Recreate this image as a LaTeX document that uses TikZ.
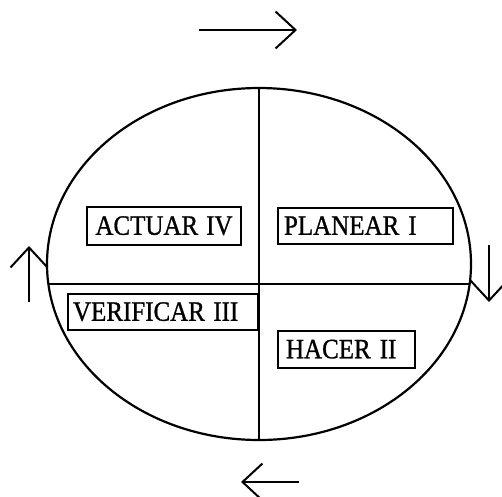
\documentclass[tikz,border=0pt]{standalone}
\usepackage{fontspec}
\setmainfont{Liberation Serif}
\newfontfamily\lblfont[FakeBold=1]{Liberation Serif}
\usetikzlibrary{arrows.meta,shapes.geometric}
\begin{document}
\begin{tikzpicture}[x=1pt,y=-1pt,
  ln/.style={line width=2.2pt},
  lbl/.style={draw, line width=2pt, anchor=north west, inner xsep=6pt, inner ysep=0pt,
    font=\lblfont\fontsize{25}{28}\selectfont, align=left, text height=17.5pt, text depth=0pt},
  arr/.style={line width=2pt, -{Straight Barb[length=20pt,width=37pt,line width=2pt]}}]
\useasboundingbox (0,0) rectangle (502,496);
\node[draw, ellipse, ln, minimum width=424pt, minimum height=352pt, inner sep=0pt] (E) at (259,264) {};
\coordinate (hl) at (48.4,284);
\coordinate (hr) at (469.6,284);
\draw[ln] (E.north) -- (E.south);
\draw[ln] (hl) -- (hr);
\node[lbl, minimum height=38pt, text width=142pt, align=center] (act) at (86,206) {\mbox{\scalebox{1}[1.12]{ACTUAR\hspace{8pt}IV}}};
\node[lbl, minimum height=36pt, text width=163pt] (pla) at (277,207) {\mbox{\scalebox{1}[1.12]{PLANEAR\hspace{9pt}I}}};
\node[lbl, minimum height=36pt, text width=180pt, inner xsep=5pt] (ver) at (67,293) {\mbox{\scalebox{1}[1.12]{VERIFICAR III}}};
\node[lbl, minimum height=37pt, text width=121pt, inner xsep=8pt] (hac) at (277,330) {\mbox{\scalebox{1}[1.12]{HACER\hspace{9pt}II}}};
\coordinate (t1) at (199,30); \coordinate (t2) at (297,30);
\coordinate (b1) at (299,482); \coordinate (b2) at (241,482);
\coordinate (l1) at (29,302); \coordinate (l2) at (29,246);
\coordinate (r1) at (489,245); \coordinate (r2) at (489,302);
\draw[arr] (t1) -- (t2);
\draw[arr] (b1) -- (b2);
\draw[arr] (l1) -- (l2);
\draw[arr] (r1) -- (r2);
\end{tikzpicture}
\end{document}
